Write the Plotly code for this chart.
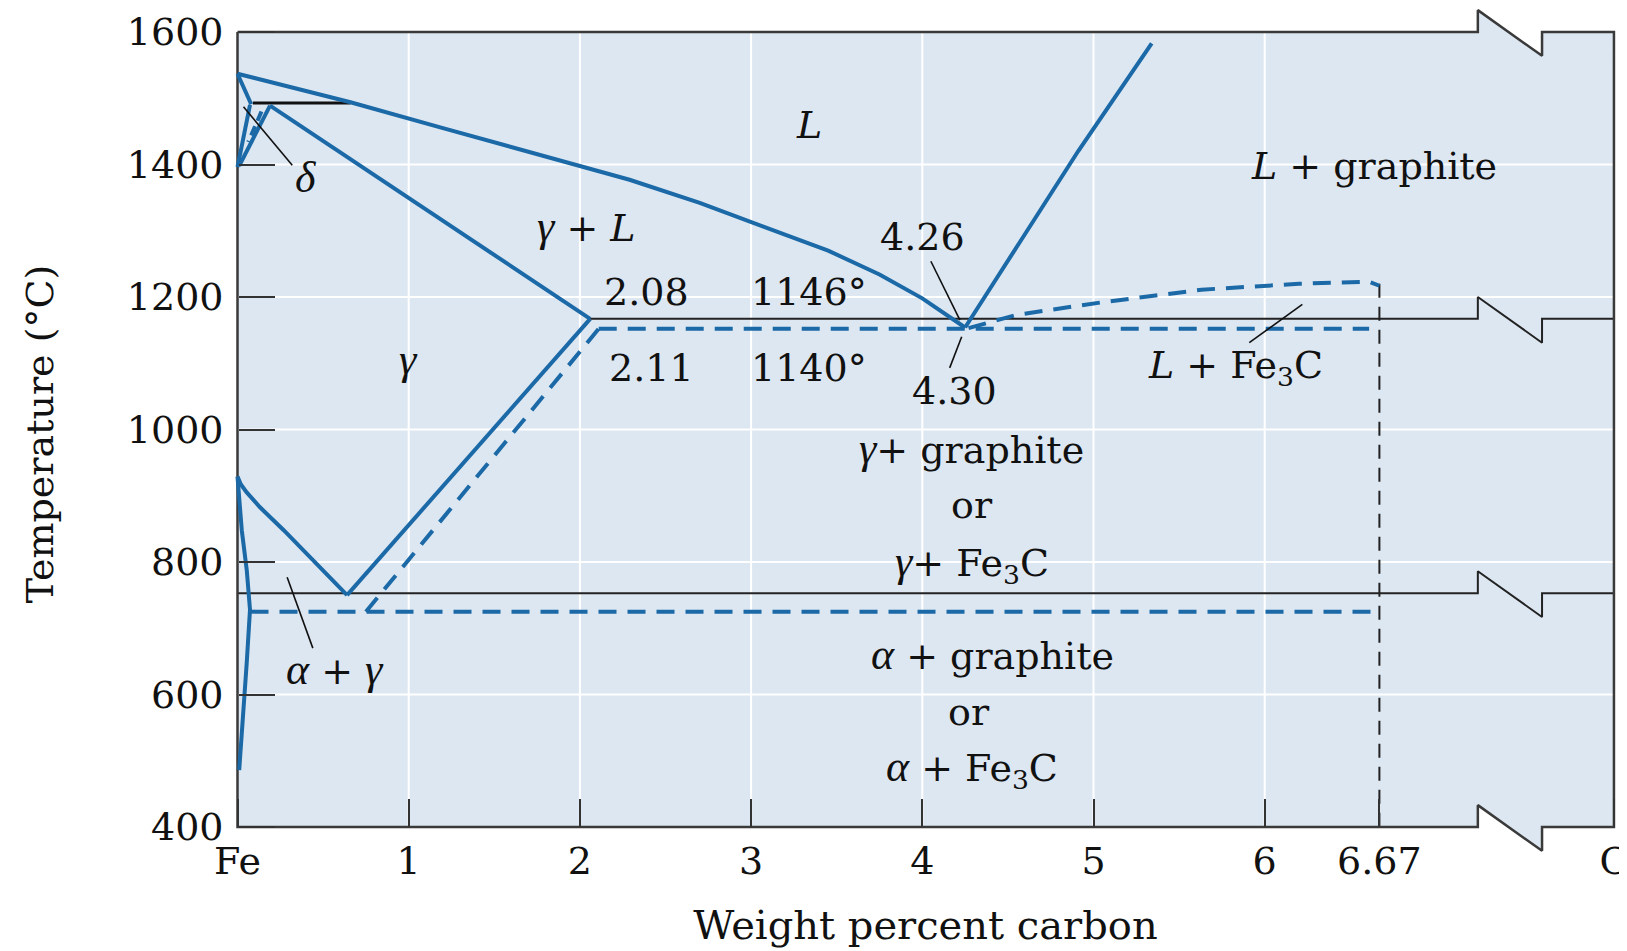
import plotly.graph_objects as go

# ---------------- data (x: weight percent carbon, y: temperature °C) ----------------
liquidus_x = [0.0, 0.66, 1.2, 1.8, 2.29, 2.7, 3.10, 3.45, 3.75, 4.0, 4.25]
liquidus_t = [1537, 1494, 1455, 1412, 1377, 1342, 1304, 1270, 1234, 1198, 1154]

delta_solidus_x = [0.0, 0.08]
delta_solidus_t = [1537, 1491]
delta_left_x = [0.073, 0.0]
delta_left_t = [1490, 1396]
delta_right_x = [0.19, 0.01]
delta_right_t = [1489, 1398]
delta_dash_x = [0.14, 0.063]
delta_dash_t = [1480, 1434]

peritectic_x = [0.09, 0.66]
peritectic_t = [1493, 1493]

gamma_solidus_x = [0.19, 2.06]
gamma_solidus_t = [1489, 1167]

acm_graphite_x = [0.64, 2.06]
acm_graphite_t = [750, 1167]
acm_fe3c_x = [0.75, 2.11]
acm_fe3c_t = [725, 1152]

a3_x = [0.0, 0.02, 0.054, 0.13, 0.27, 0.40, 0.54, 0.64]
a3_t = [929, 917, 905, 883, 848, 814, 778, 750]

alpha_lens_x = [0.0, 0.025, 0.054, 0.073, 0.054, 0.025, 0.01]
alpha_lens_t = [929, 848, 788, 728, 648, 546, 486]

graphite_liq_x = [4.25, 4.59, 4.91, 5.34]
graphite_liq_t = [1154, 1290, 1420, 1583]

fe3c_liq_x = [4.27, 4.55, 5.05, 5.63, 6.20, 6.61, 6.67]
fe3c_liq_t = [1153, 1173, 1192, 1211, 1220, 1223, 1217]

eutectic_graphite = dict(x0=2.06, x1=8.04, t=1167)
eutectic_fe3c_x = [2.11, 6.61]
eutectic_fe3c_t = [1152, 1152]
eutectoid_graphite = dict(x0=0.0, x1=8.04, t=753)
eutectoid_fe3c_x = [0.076, 6.67]
eutectoid_fe3c_t = [725, 725]
cementite_x = [6.67, 6.67]
cementite_t = [1220, 400]

# frame / axis break
x_left, x_right = 0.0, 8.04
t_bottom, t_top = 400, 1600
break_x = [7.245, 7.62]
break_up, break_down = 33, 36

x_tick_vals = [0, 1, 2, 3, 4, 5, 6, 6.67, 8.04]
x_tick_text = ["Fe", "1", "2", "3", "4", "5", "6", "6.67", "C"]
y_tick_vals = [400, 600, 800, 1000, 1200, 1400, 1600]
x_grid = [1, 2, 3, 4, 5, 6]
y_grid = [600, 800, 1000, 1200, 1400]


def gk(ch):
    """Greek / italic symbol set in a Times-like face."""
    return f'<span style="font-family:Liberation Serif;font-size:44px"><i>{ch}</i></span>'


FE3C = "Fe<sub>3</sub>C"
region_text = [
    "<i>L</i>", "<i>L</i> + graphite", gk("δ"), gk("γ") + " + <i>L</i>", "4.26",
    "2.08", "1146°", "2.11", "1140°", "4.30", gk("γ"),
    "<i>L</i> + " + FE3C, gk("γ") + "+ graphite", "or", gk("γ") + "+ " + FE3C,
    gk("α") + " + " + gk("γ"), gk("α") + " + graphite", "or", gk("α") + " + " + FE3C,
]
region_x = [3.34, 6.64, 0.40, 2.04, 4.00, 2.39, 3.34, 2.42, 3.34, 4.19, 1.00,
            5.83, 4.29, 4.29, 4.29, 0.57, 4.41, 4.27, 4.29]
region_t = [1460, 1398, 1380, 1307, 1291, 1208, 1208, 1093, 1093, 1058, 1105,
            1094, 972, 886, 798, 637, 661, 574, 489]

leaders = [  # (x0, t0, x1, t1)
    (0.035, 1487, 0.32, 1399),
    (0.29, 777, 0.44, 670),
    (4.05, 1254, 4.22, 1165),
    (4.23, 1140, 4.16, 1093),
    (6.22, 1189, 5.91, 1131),
]

# ---------------- styling ----------------
BLUE = "#1b69a6"
BG = "#dde7f2"
FRAME = "#3a3a3a"
FONT = "DejaVu Serif"
OFFSET = 8                      # browser body margin
W, H = 1627 - OFFSET, 951 - OFFSET
PX_X0 = 237.5 - OFFSET          # figure pixel of x = 0
PX_PER_X = 171.2
PX_T1600 = 32.0 - OFFSET        # figure pixel of 1600 °C
PX_PER_T = 0.6625
ML, MR, MT, MB = 224, 8, 0, 91

xmin = -(PX_X0 - ML) / PX_PER_X
xmax = (W - MR - PX_X0) / PX_PER_X
tmax = 1600 + (PX_T1600 - MT) / PX_PER_T
tmin = 1600 - ((H - MB) - PX_T1600) / PX_PER_T


def with_break(x0, x1, t):
    xs = [x0, break_x[0], break_x[0], break_x[1], break_x[1], x1]
    ts = [t, t, t + break_up, t - break_down, t, t]
    return xs, ts


fig = go.Figure()


def line(xs, ts, color=BLUE, width=4, dash=None):
    fig.add_trace(go.Scatter(x=xs, y=ts, mode="lines", hoverinfo="skip",
                             line=dict(color=color, width=width, dash=dash)))


# frame polygon (with axis breaks)
top_x, top_t = with_break(x_left, x_right, t_top)
bot_x, bot_t = with_break(x_left, x_right, t_bottom)
frame_x = top_x + bot_x[::-1] + [top_x[0]]
frame_t = top_t + bot_t[::-1] + [top_t[0]]

path = "M " + " L ".join(f"{a},{b}" for a, b in zip(frame_x, frame_t)) + " Z"
shapes = [dict(type="path", path=path, xref="x", yref="y", fillcolor=BG,
               line=dict(width=0), layer="below")]
for gx in x_grid:
    shapes.append(dict(type="line", xref="x", yref="y", x0=gx, x1=gx, y0=t_bottom, y1=t_top,
                       line=dict(color="white", width=2), layer="below"))
for gt in y_grid:
    shapes.append(dict(type="line", xref="x", yref="y", x0=x_left, x1=x_right, y0=gt, y1=gt,
                       line=dict(color="white", width=2), layer="below"))

# thin black horizontal reaction lines with breaks
ex, et = with_break(eutectic_graphite["x0"], eutectic_graphite["x1"], eutectic_graphite["t"])
line(ex, et, color="#222222", width=2)
dx, dt = with_break(eutectoid_graphite["x0"], eutectoid_graphite["x1"], eutectoid_graphite["t"])
line(dx, dt, color="#222222", width=2)
line(peritectic_x, peritectic_t, color="#111111", width=3)
line(cementite_x, cementite_t, color="#222222", width=2, dash="14px,9px")

# frame
line(frame_x, frame_t, color=FRAME, width=2.5)

# blue phase boundaries
line(liquidus_x, liquidus_t)
line(delta_solidus_x, delta_solidus_t)
line(delta_left_x, delta_left_t)
line(delta_right_x, delta_right_t)
line(delta_dash_x, delta_dash_t, dash="10px,6px")
line(gamma_solidus_x, gamma_solidus_t)
line(acm_graphite_x, acm_graphite_t)
line(acm_fe3c_x, acm_fe3c_t, dash="18px,11px")
line(a3_x, a3_t)
line(alpha_lens_x, alpha_lens_t)
line(graphite_liq_x, graphite_liq_t)
line(fe3c_liq_x, fe3c_liq_t, dash="18px,11px")
line(eutectic_fe3c_x, eutectic_fe3c_t, dash="18px,11px")
line(eutectoid_fe3c_x, eutectoid_fe3c_t, dash="18px,11px")

# leader lines
for x0, t0, x1, t1 in leaders:
    line([x0, x1], [t0, t1], color="#111111", width=1.6)

annotations = [dict(x=x, y=t, xref="x", yref="y", text=s, showarrow=False,
                    font=dict(family=FONT, size=38, color="#111111"))
               for s, x, t in zip(region_text, region_x, region_t)]

fig.update_layout(
    width=W, height=H,
    margin=dict(l=ML, r=MR, t=MT, b=MB, pad=0, autoexpand=False),
    paper_bgcolor="white", plot_bgcolor="rgba(0,0,0,0)",
    showlegend=False,
    shapes=shapes, annotations=annotations,
    xaxis=dict(range=[xmin, xmax], anchor="free",
               position=(t_bottom - tmin) / (tmax - tmin),
               tickmode="array", tickvals=x_tick_vals, ticktext=x_tick_text,
               ticks="inside", ticklen=28, tickwidth=2, tickcolor="#333333",
               showgrid=False, zeroline=False, showline=False,
               ticklabelstandoff=8, ticklabeloverflow="allow",
               tickfont=dict(family=FONT, size=38, color="#111111"),
               title=dict(text="Weight percent carbon", standoff=28,
                          font=dict(family=FONT, size=40, color="#111111"))),
    yaxis=dict(range=[tmin, tmax], anchor="free",
               position=(0 - xmin) / (xmax - xmin),
               tickmode="array", tickvals=y_tick_vals,
               ticks="inside", ticklen=36, tickwidth=2, tickcolor="#333333",
               showgrid=False, zeroline=False, showline=False,
               ticklabelstandoff=14, ticklabeloverflow="allow",
               tickfont=dict(family=FONT, size=38, color="#111111"),
               title=dict(text="Temperature (°C)", standoff=60,
                          font=dict(family=FONT, size=38, color="#111111"))),
)

fig.write_html("out.html")
